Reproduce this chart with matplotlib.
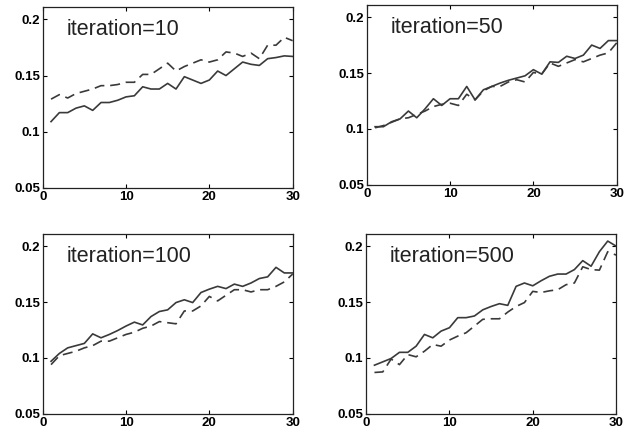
import matplotlib
matplotlib.use("Agg")
import matplotlib.pyplot as plt
import numpy as np

plt.rcParams["font.family"] = ["Liberation Sans", "DejaVu Sans"]

x = np.arange(1, 31)

titles = ["iteration=10", "iteration=50", "iteration=100", "iteration=500"]

solid_10 = [0.109, 0.117, 0.117, 0.121, 0.123, 0.119, 0.126, 0.126, 0.128, 0.131,
            0.132, 0.140, 0.138, 0.138, 0.143, 0.138, 0.149, 0.146, 0.143, 0.146,
            0.154, 0.150, 0.156, 0.162, 0.160, 0.159, 0.165, 0.166, 0.1675, 0.167]
dashed_10 = [0.129, 0.133, 0.130, 0.134, 0.136, 0.138, 0.141, 0.141, 0.142, 0.144,
             0.144, 0.151, 0.151, 0.156, 0.161, 0.154, 0.158, 0.161, 0.164, 0.162,
             0.164, 0.171, 0.170, 0.167, 0.170, 0.165, 0.177, 0.177, 0.184, 0.181]

solid_50 = [0.102, 0.102, 0.1065, 0.109, 0.116, 0.110, 0.118, 0.127, 0.121, 0.127,
            0.127, 0.138, 0.126, 0.135, 0.138, 0.141, 0.1435, 0.1455, 0.1475, 0.153,
            0.149, 0.160, 0.1595, 0.165, 0.163, 0.166, 0.175, 0.172, 0.179, 0.179]
dashed_50 = [0.101, 0.103, 0.106, 0.109, 0.110, 0.113, 0.116, 0.120, 0.122, 0.123,
             0.121, 0.131, 0.126, 0.134, 0.138, 0.138, 0.142, 0.144, 0.142, 0.1505,
             0.149, 0.159, 0.156, 0.159, 0.162, 0.160, 0.163, 0.166, 0.168, 0.177]

solid_100 = [0.097, 0.104, 0.109, 0.111, 0.113, 0.1215, 0.118, 0.121, 0.1245, 0.1285,
             0.132, 0.1295, 0.137, 0.1415, 0.143, 0.1495, 0.152, 0.1495, 0.1585, 0.1615,
             0.164, 0.162, 0.166, 0.164, 0.167, 0.171, 0.1725, 0.181, 0.176, 0.176]
dashed_100 = [0.094, 0.102, 0.104, 0.106, 0.109, 0.111, 0.115, 0.115, 0.118, 0.121,
              0.123, 0.1265, 0.1285, 0.1325, 0.1315, 0.1305, 0.142, 0.142, 0.1465, 0.155,
              0.151, 0.156, 0.161, 0.161, 0.159, 0.161, 0.161, 0.164, 0.168, 0.175]

solid_500 = [0.0935, 0.0965, 0.0995, 0.105, 0.105, 0.1105, 0.121, 0.118, 0.124, 0.127,
             0.136, 0.136, 0.1375, 0.143, 0.146, 0.1485, 0.147, 0.164, 0.167, 0.1645,
             0.169, 0.173, 0.175, 0.175, 0.179, 0.187, 0.182, 0.195, 0.2045, 0.200]
dashed_500 = [0.087, 0.0875, 0.099, 0.094, 0.103, 0.101, 0.106, 0.112, 0.1105, 0.116,
              0.1195, 0.1225, 0.1285, 0.1345, 0.135, 0.135, 0.141, 0.146, 0.1495, 0.1595,
              0.1585, 0.160, 0.161, 0.1655, 0.167, 0.1815, 0.179, 0.1785, 0.195, 0.192]

solid = [solid_10, solid_50, solid_100, solid_500]
dashed = [dashed_10, dashed_50, dashed_100, dashed_500]

yticks = [0.05, 0.1, 0.15, 0.2]
ytick_labels = ["0.05", "0.1", "0.15", "0.2"]
xticks = [0, 10, 20, 30]

# axes boxes in figure fractions (left, bottom, width, height)
boxes = [
    [0.068, 0.570, 0.398, 0.414],
    [0.584, 0.577, 0.398, 0.412],
    [0.068, 0.053, 0.398, 0.412],
    [0.583, 0.053, 0.398, 0.412],
]

fig = plt.figure(figsize=(6.28, 4.37), dpi=100)
line_color = "#3a3a3a"

for i in range(4):
    ax = fig.add_axes(boxes[i])
    ax.plot(x, solid[i], color=line_color, lw=1.2)
    ax.plot(x, dashed[i], color=line_color, lw=1.2, dashes=(6, 3.5))
    ax.set_xlim(0, 30)
    ax.set_ylim(0.05, 0.211)
    ax.set_xticks(xticks)
    ax.set_xticklabels([str(t) for t in xticks], fontweight="bold", fontsize=9.5)
    ax.set_yticks(yticks)
    ax.set_yticklabels(ytick_labels, fontweight="bold", fontsize=9.5)
    ax.tick_params(direction="in", top=True, right=True, length=3, width=0.8, pad=2)
    for s in ax.spines.values():
        s.set_linewidth(0.9)
        s.set_color("#222222")
    ax.text(0.095, 0.845, titles[i], transform=ax.transAxes, fontsize=15.5,
            va="baseline", ha="left", color="#222222")

fig.savefig("out.png", dpi=100)
